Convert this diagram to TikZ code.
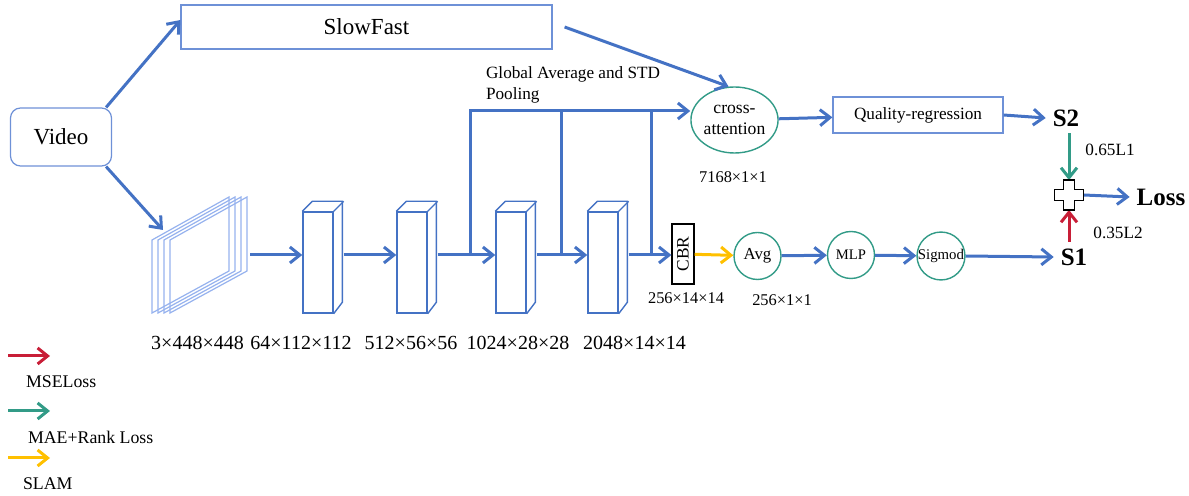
\documentclass[tikz,border=0pt]{standalone}
\usepackage{fontspec}
\setmainfont{Liberation Serif}
\usetikzlibrary{arrows.meta, shapes.geometric}
\definecolor{arrblue}{RGB}{68,114,196}
\definecolor{boxblue}{RGB}{110,145,215}
\definecolor{frmblue}{RGB}{150,178,238}
\definecolor{tealc}{RGB}{50,155,135}
\definecolor{redc}{RGB}{200,30,55}
\definecolor{yelc}{RGB}{255,192,0}

\begin{document}
\begin{tikzpicture}[x=0.5pt, y=-0.5pt,
  arr/.style={-{Straight Barb[length=5pt,width=8pt]}, line width=1.5pt, arrblue},
  box/.style={draw=boxblue, line width=0.6pt, inner sep=0pt},
  blk/.style={draw=arrblue, line width=0.7pt},
  frame/.style={draw=frmblue, line width=0.6pt},
  circ/.style={draw=tealc, line width=0.7pt, circle, minimum size=23.5pt, inner sep=0pt},
  lbl/.style={font=\fontsize{10}{12}\selectfont},
  sml/.style={font=\fontsize{8.2}{10}\selectfont},
  bigb/.style={font=\fontsize{12.5}{15}\selectfont\bfseries}]
\useasboundingbox (0,0) rectangle (1189,496);

\node[box, rounded corners=5pt, minimum width=50.5pt, minimum height=29pt,
  font=\fontsize{11.5}{14}\selectfont] (vid) at (61,137) {Video};
\node[box, minimum width=185.5pt, minimum height=22pt,
  font=\fontsize{11.5}{14}\selectfont] (sf) at (366.5,27) {SlowFast};

% frames
\foreach \dx in {0,6,12,18}{
  \draw[frame] (152+\dx,313) -- (152+\dx,240) -- (229+\dx,197) -- (229+\dx,271) -- cycle;
}
\coordinate (fr) at (163,230);
\coordinate (row) at (250,255);

% backbone blocks
\node[blk, minimum width=15pt, minimum height=50.5pt, inner sep=0pt] (b1) at (318,262.5) {};
\node[blk, minimum width=15pt, minimum height=50.5pt, inner sep=0pt] (b2) at (412,262.5) {};
\node[blk, minimum width=15pt, minimum height=50.5pt, inner sep=0pt] (b3) at (511,262.5) {};
\node[blk, minimum width=15pt, minimum height=50.5pt, inner sep=0pt] (b4) at (603,262.5) {};
\foreach \b in {b1,b2,b3,b4}{
  \draw[blk] (\b.north west) -- ++(10,-10) -- ++(30,0) -- ++(0,101) -- (\b.south east);
  \draw[blk] (\b.north east) -- ++(10,-10);
}

\node[lbl] at (197.5,343) {3×448×448};
\node[lbl] at (301,343) {64×112×112};
\node[lbl] at (411,343) {512×56×56};
\node[lbl] at (518,343) {1024×28×28};
\node[lbl] at (634.5,343) {2048×14×14};

\node[draw, line width=0.6pt, minimum width=11pt, minimum height=30pt, inner sep=0pt,
  font=\fontsize{8.7}{10}\selectfont] (cbr) at (683,254) {\rotatebox{90}{CBR}};
\node[sml] at (686,298) {256×14×14};

\node[draw=tealc, line width=0.7pt, ellipse, minimum width=38pt, minimum height=33pt,
  inner sep=0pt, align=center, font=\fontsize{8.8}{10.8}\selectfont] (ca) at (734.5,120) {cross-\\attention};
\node[sml] at (733,177) {7168×1×1};
\node[anchor=west, align=left, font=\fontsize{8.6}{10.5}\selectfont] at (479,85) {Global Average and STD\\Pooling};

\node[box, minimum width=85pt, minimum height=18pt,
  font=\fontsize{8.6}{10}\selectfont] (qr) at (918,115) {Quality-regression};

\node[circ, font=\fontsize{8.4}{10}\selectfont] (avg) at (757.5,256) {Avg};
\node[circ, font=\fontsize{7.3}{9}\selectfont] (mlp) at (851,255) {MLP};
\node[circ, font=\fontsize{7.4}{9}\selectfont] (sig) at (941,256) {Sigmod};
\node[sml] at (782,300) {256×1×1};

\node[bigb] (s2) at (1066,118) {S2};
\node[bigb] (s1) at (1074,257) {S1};
\node[bigb] (loss) at (1161,197) {Loss};
\node[font=\fontsize{8.6}{10}\selectfont] at (1110,150) {0.65L1};
\node[font=\fontsize{8.6}{10}\selectfont] at (1118,233) {0.35L2};

\node[minimum size=14.5pt, inner sep=0pt] (plus) at (1069,195) {};

% connectors
\draw[arr] ([xshift=-3pt]vid.north east) -- ([yshift=3.5pt]sf.west);
\draw[arr] ([xshift=-3pt]vid.south east) -- (fr);
\draw[arr] ([xshift=6pt]sf.east) -- (ca.100);
\draw[arr] (row) -- (row -| b1.west);
\draw[arr] ([xshift=5pt]b1.east |- row) -- (row -| b2.west);
\draw[arr] ([xshift=5pt]b2.east |- row) -- (row -| b3.west);
\draw[arr] ([xshift=5pt]b3.east |- row) -- (row -| b4.west);
\draw[arr] ([xshift=5pt]b4.east |- row) -- (row -| cbr.west);

\coordinate (t1) at (470,111);
\coordinate (t2) at (561,111);
\coordinate (t3) at (651,111);
\draw[arr] (t1 |- row) -- (t1) -- (t1 -| ca.west);
\draw[line width=1.5pt, arrblue] (t2 |- row) -- (t2);
\draw[line width=1.5pt, arrblue] (t3 |- row) -- (t3);

\draw[arr] (ca) -- (qr);
\draw[arr] (qr.east) -- (s2.west);
\draw[arr, yelc] (cbr) -- (avg);
\draw[arr] (avg) -- (mlp);
\draw[arr] (mlp) -- (sig);
\draw[arr] (sig.east) -- (s1.west);

\draw[arr, tealc] (plus |- s2.south) -- (plus.north);
\draw[arr, redc] (plus |- s1.north) -- (plus.south);
\draw[arr] (plus.east) -- (loss.west);

\begin{scope}[shift={(plus)}]
\draw[fill=white, line width=0.6pt] (-5.5,-15) -- (5.5,-15) -- (5.5,-5.5) -- (14.5,-5.5) -- (14.5,5.5)
  -- (5.5,5.5) -- (5.5,15) -- (-5.5,15) -- (-5.5,5.5) -- (-14.5,5.5) -- (-14.5,-5.5) -- (-5.5,-5.5) -- cycle;
\end{scope}

% legend
\coordinate (l1a) at (8,356);  \coordinate (l1b) at (50,356);
\coordinate (l2a) at (8,411);  \coordinate (l2b) at (50,411);
\coordinate (l3a) at (8,458);  \coordinate (l3b) at (50,458);
\draw[arr, redc] (l1a) -- (l1b);
\draw[arr, tealc] (l2a) -- (l2b);
\draw[arr, yelc] (l3a) -- (l3b);
\node[anchor=west, font=\fontsize{8.9}{10}\selectfont] at (19,382) {MSELoss};
\node[anchor=west, font=\fontsize{8.9}{10}\selectfont] at (21,437) {MAE+Rank Loss};
\node[anchor=west, font=\fontsize{8.9}{10}\selectfont] at (16,484) {SLAM};
\end{tikzpicture}
\end{document}
